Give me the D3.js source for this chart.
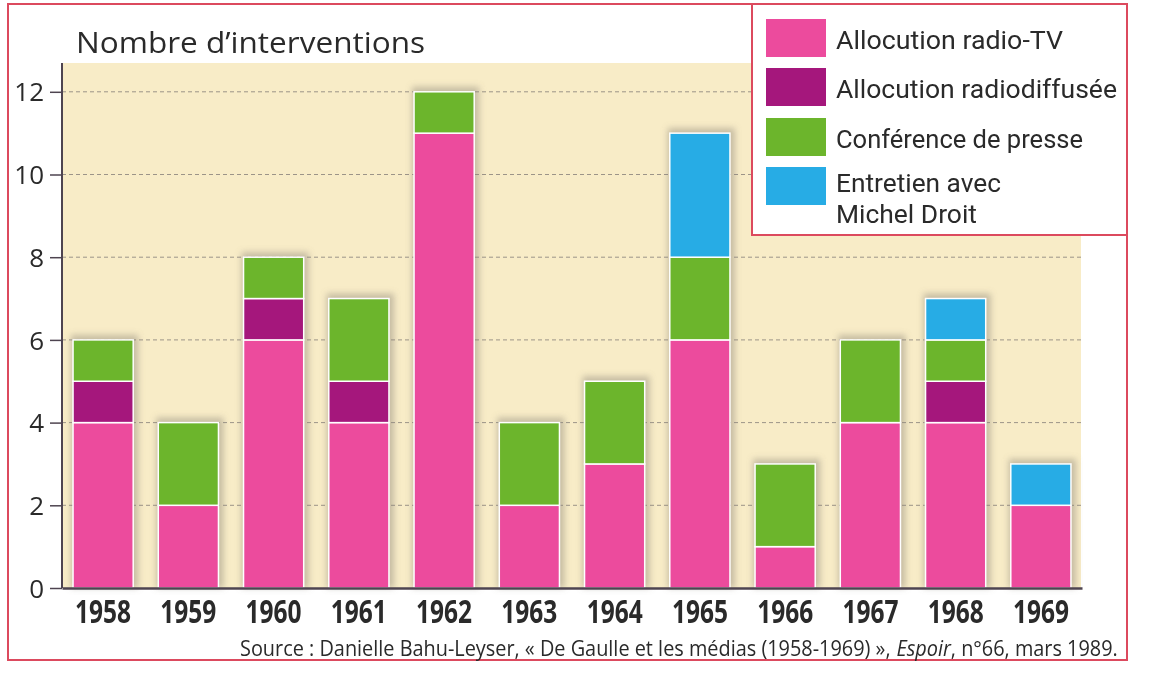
<!DOCTYPE html>
<html><head><meta charset="utf-8">
<script src="https://cdn.jsdelivr.net/npm/d3@7"></script>
<style>
body{margin:0;background:#fff;}
svg text{font-family:"Open Sans","Noto Sans",sans-serif;fill:#2a2a2a;}
</style></head>
<body>
<svg id="chart" width="1156" height="693"></svg>
<script>
// ---- data ----
const years = ["1958","1959","1960","1961","1962","1963","1964","1965","1966","1967","1968","1969"];
const radioTV      = [4, 2, 6, 4, 11, 2, 3, 6, 1, 4, 4, 2];
const radiodiffuse = [1, 0, 1, 1, 0, 0, 0, 0, 0, 0, 1, 0];
const conference   = [1, 2, 1, 2, 1, 2, 2, 2, 2, 2, 1, 0];
const entretien    = [0, 0, 0, 0, 0, 0, 0, 3, 0, 0, 1, 1];
const seriesNames = ["Allocution radio-TV","Allocution radiodiffusée","Conférence de presse","Entretien avec|Michel Droit"];
const yTicks = [0, 2, 4, 6, 8, 10, 12];
const title = "Nombre d’interventions";
const sourceParts = [
  {t:"Source : Danielle Bahu-Leyser, « De Gaulle et les médias (1958-1969) »,\u00a0", it:false},
  {t:"Espoir", it:true},
  {t:", n°66, mars 1989.", it:false}
];

const colors = ["#ec4b9d","#a5177c","#6cb52c","#27ace5"];
const seriesVals = [radioTV, radiodiffuse, conference, entretien];

const svg = d3.select("#chart");
const defs = svg.append("defs");
defs.append("filter").attr("id","blur").attr("x","-20%").attr("y","-20%").attr("width","140%").attr("height","140%")
  .append("feGaussianBlur").attr("stdDeviation",3);

const plot = {left:62, right:1081, top:63, bottom:588};

const x = d3.scaleBand().domain(years).range([plot.left, plot.right + 1])
  .paddingInner(25/85).paddingOuter(11/85);
const y = d3.scaleLinear().domain([0,12]).range([plot.bottom, plot.bottom - 12*41.35]);

// outer frame
svg.append("rect").attr("x",8).attr("y",4).attr("width",1119).attr("height",656)
  .attr("fill","#fff").attr("stroke","#dc4a5e").attr("stroke-width",2);

// plot background
svg.append("rect").attr("x",plot.left).attr("y",plot.top)
  .attr("width",plot.right-plot.left).attr("height",plot.bottom-plot.top)
  .attr("fill","#f8ecc7");

// gridlines
svg.append("g").selectAll("line").data(yTicks.filter(d=>d>0)).join("line")
  .attr("x1",plot.left).attr("x2",plot.right)
  .attr("y1",d=>y(d)).attr("y2",d=>y(d))
  .attr("stroke","#9c9488").attr("stroke-width",1).attr("stroke-dasharray","4,3");

// stacked data
const rows = years.map((yr,i)=>{
  const o={year:yr}; seriesVals.forEach((s,k)=>o["s"+k]=s[i]); return o;
});
const keys = seriesVals.map((s,k)=>"s"+k);
const stacked = d3.stack().keys(keys)(rows);

// shadows
const totals = years.map((yr,i)=>d3.sum(seriesVals,s=>s[i]));
svg.append("g").attr("filter","url(#blur)").selectAll("rect").data(years).join("rect")
  .attr("x",d=>x(d)-2).attr("width",x.bandwidth()+7)
  .attr("y",(d,i)=>y(totals[i])-5).attr("height",(d,i)=>y(0)-y(totals[i])+5)
  .attr("fill","#8a8378").attr("opacity",0.45);

// bars
svg.append("g").selectAll("g").data(stacked).join("g")
  .attr("fill",(d,i)=>colors[i])
  .selectAll("rect").data(d=>d.filter(p=>p[1]-p[0]>0)).join("rect")
  .attr("x",d=>x(d.data.year)).attr("width",x.bandwidth())
  .attr("y",d=>y(d[1])).attr("height",d=>y(d[0])-y(d[1]))
  .attr("stroke","#fff").attr("stroke-width",1.5);

// axes
const yAxis = d3.axisLeft(y).tickValues(yTicks).tickSize(12).tickPadding(6);
const gy = svg.append("g").attr("transform",`translate(${plot.left},0)`).call(yAxis);
gy.select(".domain").remove();
gy.selectAll(".tick line").attr("stroke","#4e4450").attr("stroke-width",1.5);
gy.selectAll(".tick text").attr("font-size",26).attr("fill","#2a2a2a")
  .attr("font-family","'Open Sans',sans-serif").attr("dy","0.35em");

svg.append("line").attr("x1",plot.left).attr("x2",plot.left).attr("y1",plot.top).attr("y2",plot.bottom)
  .attr("stroke","#4e4450").attr("stroke-width",2);

const xAxis = d3.axisBottom(x).tickSize(0).tickPadding(12);
const gx = svg.append("g").attr("transform",`translate(0,${plot.bottom})`).call(xAxis);
gx.select(".domain").attr("stroke","#4e4450").attr("stroke-width",2.5);
gx.selectAll(".tick text").attr("font-size",32).attr("font-weight","bold").attr("fill","#2a2a2a")
  .attr("font-family","'Open Sans',sans-serif")
  .attr("textLength",56).attr("lengthAdjust","spacingAndGlyphs").attr("dy","0.72em");

// title
svg.append("text").attr("x",76).attr("y",53).attr("font-size",30).text(title)
  .attr("textLength",349).attr("lengthAdjust","spacingAndGlyphs");

// legend
svg.append("rect").attr("x",752).attr("y",4).attr("width",375).attr("height",231)
  .attr("fill","#fff").attr("stroke","#dc4a5e").attr("stroke-width",2);
const legY = [19, 68, 118, 167];
const legLen = [[227],[281],[247],[165,141]];
const lg = svg.append("g");
seriesNames.forEach((name,i)=>{
  lg.append("rect").attr("x",766).attr("y",legY[i]).attr("width",60).attr("height",38)
    .attr("fill",colors[i]);
  const lines = name.split("|");
  lines.forEach((ln,j)=>{
    const by = lines.length===1 ? legY[i]+30 : legY[i]+25 + j*31;
    lg.append("text").attr("x",836).attr("y",by)
      .style("font-family","Roboto, 'Open Sans', sans-serif").attr("font-size",26.5).text(ln)
      .attr("textLength",legLen[i][j]).attr("lengthAdjust","spacingAndGlyphs");
  });
});

// source (three pieces placed at natural widths, group compressed horizontally to fit)
const srcG = svg.append("g");
const pieces = sourceParts.map(p=>srcG.append("text").attr("y",0).attr("font-size",21)
  .attr("font-style", p.it ? "italic" : "normal").text(p.t));
const natural = pieces.map(p=>p.node().getComputedTextLength());
let cx = 0;
pieces.forEach((p,i)=>{ p.attr("x",cx); cx += natural[i]; });
const sx = 878 / cx;
srcG.attr("transform",`translate(240,656) scale(${sx},1)`);
</script>
</body></html>
